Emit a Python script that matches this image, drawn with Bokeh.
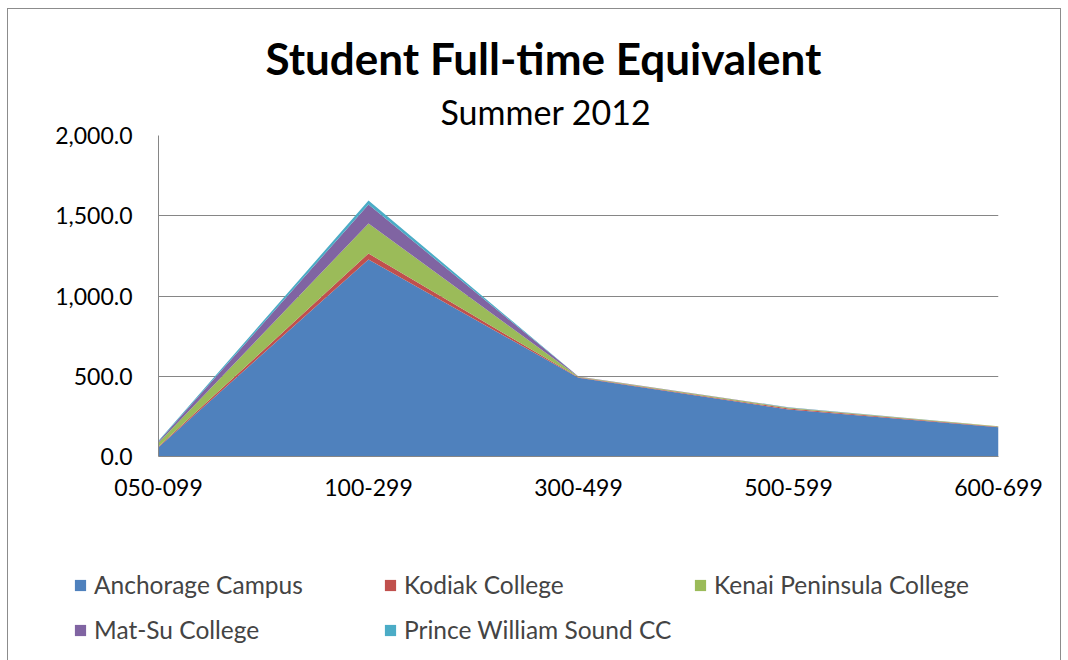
from bokeh.plotting import figure
from bokeh.layouts import column
from bokeh.models import ColumnDataSource, Legend, LegendItem, Title, FixedTicker, Range1d, NumeralTickFormatter
from bokeh.embed import file_html
from bokeh.resources import INLINE

categories = ["050-099", "100-299", "300-499", "500-599", "600-699"]
anchorage = [58, 1228, 490, 293, 183]
kodiak = [4, 37, 3, 6, 3]
kenai = [24, 187, 4, 5, 2]
matsu = [8, 118, 1, 2, 1]
pws = [4, 25, 0, 1, 0]

series = ["Anchorage Campus", "Kodiak College", "Kenai Peninsula College", "Mat-Su College", "Prince William Sound CC"]
colors = ["#4F81BD", "#C0504D", "#9BBB59", "#8064A2", "#4BACC6"]

src = ColumnDataSource(dict(x=list(range(len(categories))), a=anchorage, k=kodiak, ke=kenai, m=matsu, p=pws))
stack_cols = ["a", "k", "ke", "m", "p"]

FONT = "Lato"
GRAY = "#868686"
OX, OY = 8, 9            # page position of content (inside border)
W = 1052
H1, H2 = 511, 140
FL, FT, FR, FB = 158, 135, 998, 456   # page coords of plot frame

p = figure(width=W, height=H1, output_backend="svg", toolbar_location=None,
           x_range=Range1d(0, len(categories) - 1), y_range=Range1d(0, 2000),
           min_border_left=FL - OX, min_border_right=OX + W - FR,
           min_border_top=FT - OY, min_border_bottom=OY + H1 - FB)
p.frame_align = False
p.title.visible = False
p.outline_line_color = None

rs = p.varea_stack(stack_cols, x="x", source=src, color=colors)

p.xgrid.grid_line_color = None
p.ygrid.grid_line_color = GRAY
p.yaxis.ticker = FixedTicker(ticks=[0, 500, 1000, 1500, 2000])
p.yaxis.formatter = NumeralTickFormatter(format="0,0.0")
p.xaxis.ticker = FixedTicker(ticks=list(range(len(categories))))
p.xaxis.major_label_overrides = {i: c for i, c in enumerate(categories)}
for ax in (p.xaxis, p.yaxis):
    ax.axis_line_color = GRAY
    ax.major_tick_line_color = None
    ax.minor_tick_line_color = None
    ax.major_label_text_font = FONT
    ax.major_label_text_font_size = "23px"
    ax.major_label_text_color = "#000000"
    ax.major_tick_in = 0
    ax.major_tick_out = 0
p.yaxis.major_label_standoff = 26
p.xaxis.major_label_standoff = 22

# subtitle first (closest to the frame), then main title
p.add_layout(Title(text="Summer 2012", text_font=FONT, text_font_style="normal",
                   text_font_size="34px", align="left", offset=282, standoff=7,
                   text_color="#000000"), "above")
p.add_layout(Title(text="Student Full-time Equivalent", text_font=FONT, text_font_style="bold",
                   text_font_size="44px", align="left", offset=107, standoff=4,
                   text_color="#000000"), "above")

# legend panel
lg = figure(width=W, height=H2, output_backend="svg", toolbar_location=None,
            x_range=Range1d(0, 1), y_range=Range1d(-10, -9),
            min_border=0, min_border_left=0, min_border_right=0, min_border_top=0, min_border_bottom=0)
lg.frame_align = False
lg.title.visible = False
lg.axis.visible = False
lg.grid.visible = False
lg.outline_line_color = None
proxies = lg.varea_stack(stack_cols, x="x", source=src, color=colors)
for r in proxies:
    r.visible = False

def make_legend(idx, bottom):
    return Legend(items=[LegendItem(label=series[i], renderers=[proxies[i]]) for i in idx],
                  orientation="horizontal", location=(73 - OX, bottom),
                  label_text_font=FONT, label_text_font_size="24.5px", label_width=289,
                  glyph_width=14, glyph_height=14, label_standoff=7, label_height=24,
                  spacing=0, padding=0, margin=0, border_line_color=None,
                  background_fill_alpha=0, inactive_fill_alpha=0)

lg.add_layout(make_legend([0, 1, 2], (OY + H1 + H2) - 585 - 14), "center")
lg.add_layout(make_legend([3, 4], (OY + H1 + H2) - 630 - 14), "center")

layout = column(p, lg, spacing=0,
                styles={"border": "1px solid #8c8c8c", "margin-left": "7px", "margin-top": "8px"})

open("out.html", "w").write(file_html(layout, INLINE))
